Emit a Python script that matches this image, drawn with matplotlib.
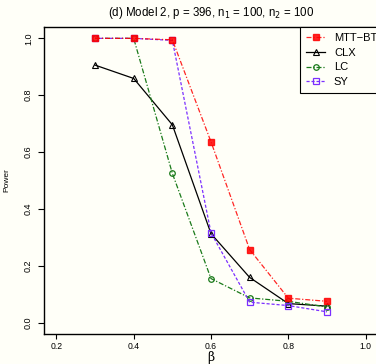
import matplotlib
matplotlib.use("Agg")
import matplotlib.pyplot as plt

beta = [0.3, 0.4, 0.5, 0.6, 0.7, 0.8, 0.9]
mtt_bt = [1.0, 1.0, 0.995, 0.636, 0.257, 0.086, 0.075]
clx = [0.906, 0.859, 0.696, 0.313, 0.159, 0.067, 0.058]
lc = [1.0, 1.0, 0.525, 0.155, 0.087, 0.075, 0.055]
sy = [1.0, 1.0, 0.993, 0.316, 0.072, 0.060, 0.038]

xticks = [0.2, 0.4, 0.6, 0.8, 1.0]
yticks = [0.0, 0.2, 0.4, 0.6, 0.8, 1.0]

bg = "#fffff8"
plt.rcParams["font.family"] = ["Liberation Sans", "DejaVu Sans"]

fig = plt.figure(figsize=(3.76, 3.64), dpi=100, facecolor=bg)
ax = fig.add_axes([44 / 376, 30 / 364, 334 / 376, 307 / 364], facecolor=bg)

ax.plot(beta, clx, color="black", ls="-", lw=0.9,
        marker="^", ms=5, mfc="none", mec="black", mew=0.8, label="CLX", zorder=3)
ax.plot(beta, lc, color="#1a7a1a", ls=(0, (4, 1.5, 1, 1.5)), lw=0.9,
        marker="o", ms=4, mfc="none", mec="#1a7a1a", mew=0.9, label="LC", zorder=3)
ax.plot(beta, sy, color="#7b2fff", ls=(0, (2.5, 1.5)), lw=0.9,
        marker="s", ms=4, mfc="none", mec="#7b2fff", mew=0.9, label="SY", zorder=3)
ax.plot(beta, mtt_bt, color="red", ls=(0, (4, 1.5, 1, 1.5)), lw=0.9, alpha=0.85,
        marker="s", ms=4.5, mfc="red", mec="red", label="MTT\u2212BT", zorder=4)

ax.set_xlim(0.168, 1.032)
ax.set_ylim(-0.04, 1.04)
ax.set_xticks(xticks)
ax.set_xticklabels(["0.2", "0.4", "0.6", "0.8", "1.0"])
ax.set_yticks(yticks)
ax.set_yticklabels(["0.0", "0.2", "0.4", "0.6", "0.8", "1.0"], rotation=90, va="center")
ax.tick_params(labelsize=6.5, length=4, width=0.8, pad=4, colors="black")
ax.tick_params(axis="x", labelsize=6.2, length=3.5, pad=2)
for s in ax.spines.values():
    s.set_linewidth(1.0)

# x label placed by hand so it stays inside the small canvas
fig.text(211 / 376, 0.5 / 364, "\u03b2", fontsize=8.8, family="DejaVu Serif",
         ha="center", va="bottom")
ax.set_ylabel("Power", fontsize=6, labelpad=10)
ax.set_title("(d) Model 2, p = 396, n$_1$ = 100, n$_2$ = 100", fontsize=8.3, pad=8)

handles, labels = ax.get_legend_handles_labels()
order = [3, 0, 1, 2]
leg = ax.legend([handles[i] for i in order], [labels[i] for i in order],
                loc="upper left", bbox_to_anchor=(256 / 334, 1.0), fontsize=8, frameon=True,
                fancybox=False, borderaxespad=0, handlelength=1.7, labelspacing=0.42,
                borderpad=0.55, handletextpad=0.8)
leg.get_frame().set_edgecolor("black")
leg.get_frame().set_linewidth(0.8)
leg.get_frame().set_facecolor(bg)
leg.get_frame().set_alpha(1)

fig.savefig("out.png", dpi=100, facecolor=bg)
